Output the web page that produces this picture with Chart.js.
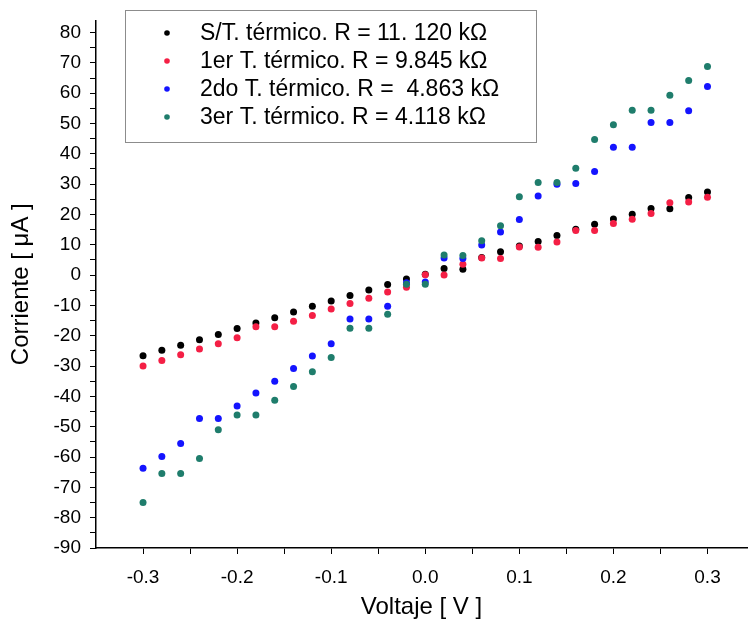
<!DOCTYPE html>
<html>
<head>
<meta charset="utf-8">
<script src="https://cdn.jsdelivr.net/npm/chart.js@4/dist/chart.umd.min.js"></script>
<style>
    html, body { margin: 0; padding: 0; background: #ffffff; }
    canvas { display: block; }
</style>
</head>
<body>
<canvas id="grafico" width="751" height="627"></canvas>
<script>
const voltaje = [-0.30, -0.28, -0.26, -0.24, -0.22, -0.20, -0.18, -0.16, -0.14, -0.12, -0.10, -0.08, -0.06, -0.04, -0.02,
    0.00, 0.02, 0.04, 0.06, 0.08, 0.10, 0.12, 0.14, 0.16, 0.18, 0.20, 0.22, 0.24, 0.26, 0.28, 0.30];

const sinTratamiento = [-26.6, -24.8, -23.1, -21.3, -19.6, -17.6, -15.8, -14.1, -12.2, -10.3, -8.5, -6.7, -4.9, -3.1, -1.3,
    0.3, 2.2, 1.9, 5.8, 7.7, 9.6, 11.1, 13.1, 15.1, 16.8, 18.5, 20.1, 22.0, 21.9, 25.6, 27.4];

const primerTratamiento = [-30.0, -28.2, -26.3, -24.4, -22.6, -20.7, -17.0, -17.0, -15.2, -13.3, -11.2, -9.4, -7.6, -5.6, -4.0,
    0.1, 0.0, 3.6, 5.6, 5.5, 9.3, 9.2, 10.9, 14.7, 14.7, 17.0, 18.4, 20.3, 23.9, 24.1, 25.7];

const segundoTratamiento = [-63.7, -59.8, -55.5, -47.3, -47.3, -43.2, -38.9, -35.0, -30.8, -26.7, -22.6, -14.5, -14.5, -10.3, -2.5,
    -2.3, 5.6, 5.5, 9.9, 14.2, 18.3, 26.1, 30.0, 30.2, 34.2, 42.2, 42.2, 50.3, 50.3, 54.2, 62.2];

const tercerTratamiento = [-75.0, -65.4, -65.4, -60.5, -51.0, -46.1, -46.1, -41.3, -36.7, -31.9, -27.2, -17.5, -17.5, -12.9, -3.0,
    -3.0, 6.6, 6.5, 11.3, 16.3, 25.8, 30.5, 30.5, 35.2, 44.7, 49.6, 54.4, 54.4, 59.3, 64.2, 68.8];

const etiquetas = [
    'S/T. térmico. R = 11. 120 kΩ',
    '1er T. térmico. R = 9.845 kΩ',
    '2do T. térmico. R =  4.863 kΩ',
    '3er T. térmico. R = 4.118 kΩ'
];

const colores = ['#000000', '#f41f45', '#1414ff', '#1f7d6c'];

const fuente = "'Liberation Sans', Arial, sans-serif";

function puntos(serie) {
    return voltaje.map(function(v, i) { return { x: v, y: serie[i] }; });
}

function etiquetaX(valor) {
    const d = Math.round(valor * 10);
    if (Math.abs(valor * 10 - d) > 1e-6) return '';
    return (d / 10).toFixed(1);
}

function etiquetaY(valor) {
    return valor % 10 === 0 ? String(valor) : '';
}

// leyenda dibujada a mano, dentro del area del grafico
const leyendaCaja = {
    id: 'leyendaCaja',
    afterDraw: function(chart) {
        const ctx = chart.ctx;
        ctx.save();
        ctx.strokeStyle = '#8c8c8c';
        ctx.lineWidth = 1;
        ctx.fillStyle = '#ffffff';
        ctx.fillRect(125, 10, 411, 132);
        ctx.strokeRect(125.5, 10.5, 411, 132);
        ctx.font = '23px ' + fuente;
        ctx.textBaseline = 'middle';
        chart.data.datasets.forEach(function(ds, i) {
            const y = 33 + i * 28;
            ctx.beginPath();
            ctx.fillStyle = ds.backgroundColor;
            ctx.arc(167, y, 2.8, 0, Math.PI * 2);
            ctx.fill();
            ctx.fillStyle = '#000000';
            ctx.fillText(ds.label, 200, y + 1);
        });
        ctx.restore();
    }
};

const series = [sinTratamiento, primerTratamiento, segundoTratamiento, tercerTratamiento];

const grafico = new Chart(document.getElementById('grafico'), {
    type: 'scatter',
    data: {
        datasets: series.map(function(serie, i) {
            return {
                label: etiquetas[i],
                data: puntos(serie),
                backgroundColor: colores[i],
                borderColor: colores[i],
                pointRadius: 3.5,
                pointBorderWidth: 0,
                order: 4 - i
            };
        })
    },
    options: {
        responsive: false,
        animation: false,
        devicePixelRatio: 1,
        layout: { padding: { top: 11, right: 1, left: 0, bottom: 0 } },
        plugins: {
            legend: { display: false },
            tooltip: { enabled: false }
        },
        scales: {
            x: {
                type: 'linear',
                min: -0.35,
                max: 0.342,
                afterFit: function(scale) { scale.height = 79; },
                border: { color: '#000000', width: 1.5 },
                grid: { drawOnChartArea: false, color: '#000000', tickLength: 6, lineWidth: 1 },
                ticks: {
                    stepSize: 0.05,
                    includeBounds: false,
                    autoSkip: false,
                    maxRotation: 0,
                    padding: 12,
                    color: '#000000',
                    font: { family: fuente, size: 19 },
                    callback: etiquetaX
                },
                title: {
                    display: true,
                    text: 'Voltaje [ V ]',
                    color: '#000000',
                    font: { family: fuente, size: 24 },
                    padding: { top: 0, bottom: 5 }
                }
            },
            y: {
                min: -90,
                max: 84,
                afterFit: function(scale) { scale.width = 96; },
                border: { color: '#000000', width: 1.5 },
                grid: { drawOnChartArea: false, color: '#000000', tickLength: 6, lineWidth: 1 },
                ticks: {
                    stepSize: 5,
                    includeBounds: false,
                    autoSkip: false,
                    padding: 9,
                    color: '#000000',
                    font: { family: fuente, size: 19 },
                    callback: etiquetaY
                },
                title: {
                    display: true,
                    text: 'Corriente [ μA ]',
                    color: '#000000',
                    font: { family: fuente, size: 24 },
                    padding: { top: 7, bottom: 0 }
                }
            }
        }
    },
    plugins: [leyendaCaja]
});
</script>
</body>
</html>
